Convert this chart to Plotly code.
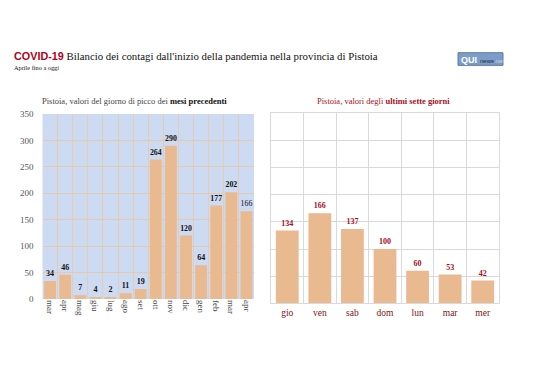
import plotly.graph_objects as go

months = ["mar", "apr", "mag", "giu", "lug", "ago", "set", "ott", "nov", "dic", "gen", "feb", "mar ", "apr "]
month_vals = [34, 46, 7, 4, 2, 11, 19, 264, 290, 120, 64, 177, 202, 166]
days = ["gio", "ven", "sab", "dom", "lun", "mar", "mer"]
day_vals = [134, 166, 137, 100, 60, 53, 42]
y_ticks = [0, 50, 100, 150, 200, 250, 300, 350]

W, H = 538, 380
def px(x): return x / W
def py(y): return 1 - y / H

SERIF = "Liberation Serif"
BAR = "#e9b98f"
RED = "#a50f1e"

month_text = [f"<b>{v}</b>" for v in month_vals[:-1]] + [str(month_vals[-1])]

fig = go.Figure()
fig.add_trace(go.Bar(
    x=months, y=month_vals, marker_color=BAR, marker_line_width=0,
    text=month_text, textposition="outside", cliponaxis=False,
    textfont=dict(family=SERIF, size=8, color="#111"),
    xaxis="x", yaxis="y", showlegend=False,
))
fig.add_trace(go.Bar(
    x=days, y=day_vals, marker_color=BAR, marker_line_width=0,
    text=[f"<b>{v}</b>" for v in day_vals], textposition="outside", cliponaxis=False,
    textfont=dict(family=SERIF, size=8, color=RED),
    xaxis="x2", yaxis="y2", showlegend=False, width=0.7,
))

fig.update_layout(
    width=W, height=H, margin=dict(l=0, r=0, t=0, b=0),
    paper_bgcolor="white", plot_bgcolor="white", bargap=0.22,
    xaxis=dict(domain=[px(42.5), px(254)], type="category", tickson="boundaries",
               showgrid=True, gridcolor="#e6ccb4", gridwidth=1, ticks="", tickangle=90,
               tickfont=dict(family=SERIF, size=9, color="#444"),
               showline=False, anchor="y"),
    yaxis=dict(domain=[py(302), py(112)], range=[0, 350], tickvals=y_ticks,
               showgrid=True, gridcolor="#e6c9ad", gridwidth=1, zeroline=False,
               ticklabelstandoff=8,
               tickfont=dict(family=SERIF, size=9, color="#555"), anchor="x"),
    xaxis2=dict(domain=[px(271), px(499)], type="category", tickson="boundaries",
                showgrid=True, gridcolor="#d9d9d9", ticks="",
                tickfont=dict(family=SERIF, size=9.5, color="#7a1515"),
                showline=True, linecolor="#d9d9d9", mirror=True, anchor="y2"),
    yaxis2=dict(domain=[py(306.5), py(111)], range=[0, 350], tickvals=y_ticks,
                showticklabels=False, showgrid=True, gridcolor="#d9d9d9",
                zeroline=False, showline=True, linecolor="#d9d9d9", mirror=True, anchor="x2"),
)

ann = [
    dict(x=px(12), y=py(52), xanchor="left", yanchor="middle",
         text="<span style='font-family:Liberation Sans;color:#b0001e'><b>COVID-19</b></span> Bilancio dei contagi dall'inizio della pandemia nella provincia di Pistoia",
         font=dict(family=SERIF, size=10.8, color="#111")),
    dict(x=px(12), y=py(64), xanchor="left", yanchor="middle",
         text="Aprile fino a oggi", font=dict(family=SERIF, size=6.3, color="#111")),
    dict(x=px(134), y=py(99), xanchor="center", yanchor="middle",
         text="Pistoia, valori del giorno di picco dei <b><span style='color:#111'>mesi precedenti</span></b>",
         font=dict(family=SERIF, size=8.5, color="#444")),
    dict(x=px(383), y=py(99), xanchor="center", yanchor="middle",
         text="Pistoia, valori degli <b>ultimi sette giorni</b>",
         font=dict(family=SERIF, size=8.5, color=RED)),
    dict(x=px(459), y=py(56), xanchor="left", yanchor="middle",
         text="<b>QUI</b>", font=dict(family="Liberation Sans", size=9, color="white")),
    dict(x=px(478), y=py(57), xanchor="left", yanchor="middle",
         text="news<span style='color:#c8d4e6'>.net</span>", font=dict(family="Liberation Sans", size=6, color="#1a2a44")),
]
for a in ann:
    a.update(xref="paper", yref="paper", showarrow=False)
fig.update_layout(annotations=ann)
fig.add_shape(type="rect", xref="x domain", yref="y domain", x0=0, x1=1, y0=0, y1=1,
              fillcolor="#ccdaf2", line_width=0, layer="below")
fig.add_shape(type="rect", xref="paper", yref="paper", x0=px(458), x1=px(503),
              y0=py(62), y1=py(49), fillcolor="#7d9cc6", line=dict(color="#5b7aa6", width=1), layer="below")

fig.write_html(
    "out.html",
    config={"displayModeBar": False},
    post_script="document.documentElement.style.overflow='hidden';"
                "document.body.style.margin='0';document.body.style.overflow='hidden';",
)
